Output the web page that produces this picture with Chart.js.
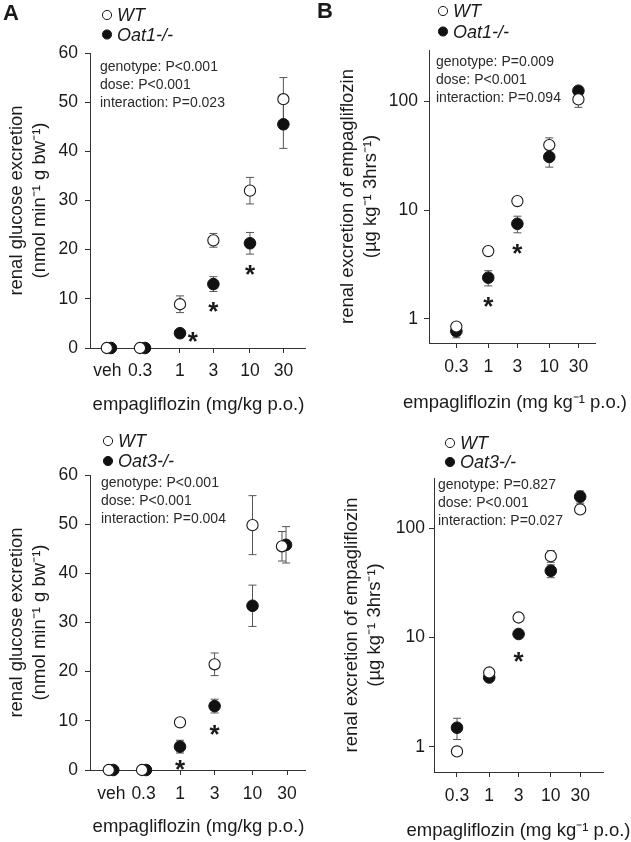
<!DOCTYPE html>
<html>
<head>
<meta charset="utf-8">
<script src="https://cdn.jsdelivr.net/npm/chart.js@4.4.1/dist/chart.umd.min.js"></script>
<style>
  body { margin: 0; background: #fff; }
  #fig { position: relative; width: 631px; height: 842px; overflow: hidden; }
  .panel { position: absolute; }
</style>
</head>
<body>
<div id="fig">
  <div class="panel" style="left:0;top:0;width:315px;height:420px"><canvas id="chartA"></canvas></div>
  <div class="panel" style="left:315px;top:0;width:316px;height:420px"><canvas id="chartB"></canvas></div>
  <div class="panel" style="left:0;top:420px;width:315px;height:422px"><canvas id="chartC"></canvas></div>
  <div class="panel" style="left:315px;top:420px;width:316px;height:422px"><canvas id="chartD"></canvas></div>
</div>
<script>
// values (mean and SEM)
const glucoseDoseLabels = ["veh", "0.3", "1", "3", "10", "30"];
const excretionDoseLabels = ["0.3", "1", "3", "10", "30"];
const glucoseTicks = [0, 10, 20, 30, 40, 50, 60];
const excretionTicks = [1, 10, 100];

// A: renal glucose excretion, WT vs Oat1-/-
const aTickX = [0.092, 0.27, 1, 3, 10, 30];
const aWtX = [0.09, 0.268, 1, 3, 10, 30];
const aKoX = [0.103, 0.316, 1, 3, 10, 30];
const aWt = [0, 0, 8.9, 21.9, 32.0, 50.6];
const aWtSem = [0, 0, 1.7, 1.4, 2.7, 4.4];
const aKo = [0, 0, 3.0, 13.0, 21.3, 45.5];
const aKoSem = [0, 0, 0.5, 1.5, 2.2, 4.9];
const aStars = [[1.53, 2.6], [3, 8.7], [10, 16.3]];
const aStats = ["genotype: P<0.001", "dose: P<0.001", "interaction: P=0.023"];

// B: renal excretion of empagliflozin, WT vs Oat1-/-
const bTickX = [0.3, 1, 3, 10, 30];
const bWt = [0.85, 4.2, 12.1, 39.6, 104];
const bWtSem = [0.06, 0.35, 0.6, 6.5, 16];
const bKo = [0.77, 2.39, 7.48, 30.8, 125];
const bKoSem = [0.1, 0.38, 1.3, 6, 9];
const bStars = [[1, 1.49], [3, 4.6]];
const bStats = ["genotype: P=0.009", "dose: P<0.001", "interaction: P=0.094"];

// C: renal glucose excretion, WT vs Oat3-/-
const cTickX = [0.113, 0.314, 1, 3, 10, 30];
const cWtX = [0.104, 0.299, 1, 3, 10, 25.5];
const cKoX = [0.12, 0.339, 1, 3, 10, 29];
const cWt = [0, 0, 9.7, 21.5, 49.8, 45.5];
const cWtSem = [0, 0, 0.6, 2.3, 6.0, 3.0];
const cKo = [0, 0, 4.75, 13.0, 33.4, 45.8];
const cKoSem = [0, 0, 1.3, 1.4, 4.2, 3.7];
const cStars = [[1, 1.5], [3, 8.5]];
const cStats = ["genotype: P<0.001", "dose: P<0.001", "interaction: P=0.004"];

// D: renal excretion of empagliflozin, WT vs Oat3-/-
const dTickX = [0.3, 1, 3, 10, 30];
const dWt = [0.91, 4.8, 15.3, 55.7, 149];
const dWtSem = [0.03, 0.2, 0.8, 6.8, 8];
const dKo = [1.5, 4.32, 10.8, 40.9, 195];
const dKoSem = [0.33, 0.3, 0.8, 5.5, 25];
const dStars = [[3, 6.9]];
const dStats = ["genotype: P=0.827", "dose: P<0.001", "interaction: P=0.027"];

const FONT = "'Liberation Sans', Arial, Helvetica, sans-serif";
const INK = "#1a1a1a";
Chart.defaults.font.family = FONT;
Chart.defaults.color = INK;

function points(xs, ys) {
  return xs.map((x, i) => ({ x: x, y: ys[i] }));
}

// error bars drawn under the markers
const errorBars = {
  id: "errorBars",
  beforeDatasetsDraw(chart) {
    const ctx = chart.ctx;
    const ys = chart.scales.y;
    ctx.save();
    ctx.strokeStyle = "#555";
    ctx.lineWidth = 1;
    chart.data.datasets.forEach((ds, i) => {
      chart.getDatasetMeta(i).data.forEach((pt, j) => {
        const v = ds.data[j].y;
        const e = ds.sem ? ds.sem[j] : 0;
        if (!e) return;
        const top = ys.getPixelForValue(v + e);
        const bot = ys.getPixelForValue(Math.max(v - e, ys.min));
        ctx.beginPath();
        ctx.moveTo(pt.x, top); ctx.lineTo(pt.x, bot);
        ctx.moveTo(pt.x - 4, top); ctx.lineTo(pt.x + 4, top);
        ctx.moveTo(pt.x - 4, bot); ctx.lineTo(pt.x + 4, bot);
        ctx.stroke();
      });
    });
    ctx.restore();
  }
};

// panel letter, legend, x title, stats text, significance stars
const decor = {
  id: "decor",
  afterDraw(chart, args, o) {
    const ctx = chart.ctx;
    const area = chart.chartArea;
    ctx.save();
    ctx.fillStyle = INK;
    ctx.textBaseline = "middle";
    if (o.letter) {
      ctx.font = "bold 22px " + FONT;
      ctx.textAlign = "center";
      ctx.fillText(o.letter, o.letterX, o.letterY);
    }
    // x axis title, drawn here so it is not squeezed to the plot width
    ctx.font = "18.5px " + FONT;
    ctx.textAlign = "center";
    ctx.fillText(o.xTitle, (area.left + area.right) / 2 + o.xTitleDx, o.xTitleY);

    ctx.textAlign = "left";
    chart.data.datasets.forEach((ds, i) => {
      const y = o.legendY + i * o.legendDy;
      ctx.beginPath();
      ctx.arc(o.legendX, y, 4.6, 0, Math.PI * 2);
      ctx.fillStyle = ds.backgroundColor;
      ctx.fill();
      ctx.lineWidth = 1;
      ctx.strokeStyle = INK;
      ctx.stroke();
      ctx.fillStyle = INK;
      ctx.font = "italic 18px " + FONT;
      ctx.fillText(ds.label, o.legendX + 10, y + 1);
    });
    ctx.font = "14px " + FONT;
    ctx.fillStyle = "#2a2a2a";
    o.stats.forEach((s, i) => ctx.fillText(s, o.statsX, o.statsY + i * 18.2));
    ctx.fillStyle = INK;
    ctx.font = "bold 26px " + FONT;
    ctx.textAlign = "center";
    ctx.textBaseline = "alphabetic";
    o.stars.forEach(([sx, sy]) => {
      ctx.fillText("*", chart.scales.x.getPixelForValue(sx), chart.scales.y.getPixelForValue(sy) + 15);
    });
    ctx.restore();
  }
};

function makePanel(id, p) {
  const tickColor = "#333";
  const ctx = document.getElementById(id).getContext("2d");
  return new Chart(ctx, {
    type: "scatter",
    data: {
      datasets: [
        {
          label: "WT",
          data: points(p.wtX, p.wt),
          sem: p.wtSem,
          backgroundColor: "#ffffff",
          borderColor: INK,
          borderWidth: 1.1,
          pointRadius: 5.6,
          clip: false
        },
        {
          label: p.koLabel,
          data: points(p.koX, p.ko),
          sem: p.koSem,
          backgroundColor: "#111111",
          borderColor: "#111111",
          borderWidth: 1,
          pointRadius: 5.8,
          clip: false
        }
      ]
    },
    options: {
      responsive: true,
      maintainAspectRatio: false,
      animation: false,
      layout: { padding: { left: 0, right: p.padRight, top: p.padTop, bottom: 0 } },
      plugins: {
        legend: { display: false },
        tooltip: { enabled: false },
        decor: {
          letter: p.letter, letterX: p.letterX, letterY: p.letterY,
          legendX: p.legendX, legendY: p.legendY, legendDy: p.legendDy,
          xTitle: p.xTitle, xTitleY: p.xTitleY, xTitleDx: p.xTitleDx,
          stats: p.stats, statsX: p.statsX, statsY: p.statsY,
          stars: p.stars
        }
      },
      scales: {
        x: {
          type: "logarithmic",
          min: p.xMin,
          max: p.xMax,
          afterBuildTicks: (s) => { s.ticks = p.tickX.map(v => ({ value: v })); },
          afterFit: (s) => { s.height = p.xHeight; },
          ticks: {
            autoSkip: false,
            maxRotation: 0,
            padding: p.xTickPad,
            font: { size: 17.5 },
            color: INK,
            callback: (v, i) => p.xLabels[i]
          },
          grid: { drawOnChartArea: false, drawTicks: true, tickLength: 5, color: tickColor },
          border: { display: true, color: tickColor, width: 1 },
          title: { display: false }
        },
        y: {
          type: p.yLog ? "logarithmic" : "linear",
          min: p.yMin,
          max: p.yMax,
          afterBuildTicks: (s) => { s.ticks = p.yTicks.map(v => ({ value: v })); },
          afterFit: (s) => { s.width = p.yWidth; },
          ticks: {
            autoSkip: false,
            padding: p.yTickPad,
            font: { size: 17.5 },
            color: INK,
            callback: (v) => String(v)
          },
          grid: { drawOnChartArea: false, drawTicks: true, tickLength: 5, color: tickColor },
          border: { display: true, color: tickColor, width: 1 },
          title: {
            display: true,
            text: p.yTitle,
            font: { size: 18.5, lineHeight: 1.25 },
            color: INK,
            padding: { top: p.yTitlePad, bottom: 0 }
          }
        }
      }
    },
    plugins: [errorBars, decor]
  });
}

const glucoseTitle = ["renal glucose excretion", "(nmol min\u207B\u00B9 g bw\u207B\u00B9)"];
const excretionTitle = ["renal excretion of empagliflozin", "(\u00B5g kg\u207B\u00B9 3hrs\u207B\u00B9)"];

makePanel("chartA", {
  wtX: aWtX, wt: aWt, wtSem: aWtSem, koX: aKoX, ko: aKo, koSem: aKoSem, koLabel: "Oat1-/-",
  tickX: aTickX, xLabels: glucoseDoseLabels, xMin: 0.0518, xMax: 61.1,
  yTicks: glucoseTicks, yMin: 0, yMax: 60, yLog: false,
  xTitle: "empagliflozin (mg/kg p.o.)", yTitle: glucoseTitle,
  padTop: 53, padRight: 10, yWidth: 90, xHeight: 72,
  xTickPad: 8, yTickPad: 7, xTitleY: 405, xTitleDx: 1, yTitlePad: 5.4,
  letter: "A", letterX: 11, letterY: 14,
  legendX: 107, legendY: 15, legendDy: 19.5,
  stats: aStats, statsX: 100, statsY: 67, stars: aStars
});

makePanel("chartB", {
  wtX: bTickX, wt: bWt, wtSem: bWtSem, koX: bTickX, ko: bKo, koSem: bKoSem, koLabel: "Oat1-/-",
  tickX: bTickX, xLabels: excretionDoseLabels, xMin: 0.107, xMax: 56.1,
  yTicks: excretionTicks, yMin: 0.625, yMax: 296, yLog: true,
  xTitle: "empagliflozin (mg kg\u207B\u00B9 p.o.)", yTitle: excretionTitle,
  padTop: 50, padRight: 36, yWidth: 114, xHeight: 77,
  xTickPad: 9, yTickPad: 6, xTitleY: 403, xTitleDx: 3, yTitlePad: 21.4,
  letter: "B", letterX: 10, letterY: 12,
  legendX: 128, legendY: 11, legendDy: 20.5,
  stats: bStats, statsX: 121, statsY: 62, stars: bStars
});

makePanel("chartC", {
  wtX: cWtX, wt: cWt, wtSem: cWtSem, koX: cKoX, ko: cKo, koSem: cKoSem, koLabel: "Oat3-/-",
  tickX: cTickX, xLabels: glucoseDoseLabels, xMin: 0.0573, xMax: 53.0,
  yTicks: glucoseTicks, yMin: 0, yMax: 60, yLog: false,
  xTitle: "empagliflozin (mg/kg p.o.)", yTitle: glucoseTitle,
  padTop: 55, padRight: 10, yWidth: 90, xHeight: 72,
  xTickPad: 9, yTickPad: 7, xTitleY: 407, xTitleDx: 1, yTitlePad: 5.4,
  letter: "", letterX: 0, letterY: 0,
  legendX: 108, legendY: 21, legendDy: 20,
  stats: cStats, statsX: 101, statsY: 63, stars: cStars
});

makePanel("chartD", {
  wtX: dTickX, wt: dWt, wtSem: dWtSem, koX: dTickX, ko: dKo, koSem: dKoSem, koLabel: "Oat3-/-",
  tickX: dTickX, xLabels: excretionDoseLabels, xMin: 0.127, xMax: 70.4,
  yTicks: excretionTicks, yMin: 0.59, yMax: 289, yLog: true,
  xTitle: "empagliflozin (mg kg\u207B\u00B9 p.o.)", yTitle: excretionTitle,
  padTop: 58, padRight: 28, yWidth: 119, xHeight: 70,
  xTickPad: 9, yTickPad: 4, xTitleY: 411, xTitleDx: 0, yTitlePad: 25,
  letter: "", letterX: 0, letterY: 0,
  legendX: 135, legendY: 23, legendDy: 19,
  stats: dStats, statsX: 123, statsY: 65, stars: dStars
});
</script>
</body>
</html>
